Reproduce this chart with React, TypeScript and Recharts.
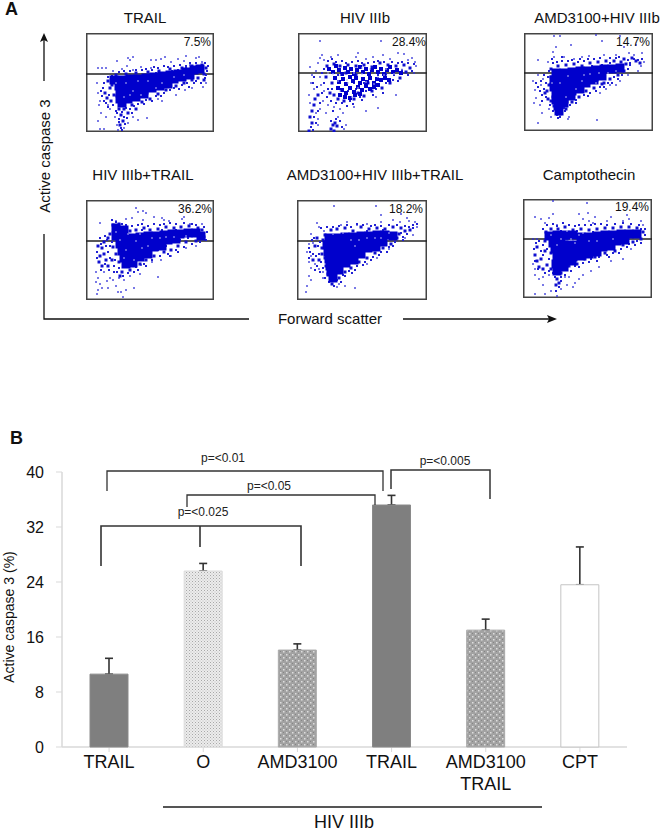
import React from "react";
import { BarChart, Bar, Cell, ErrorBar, XAxis, YAxis, ScatterChart, Scatter, ReferenceLine, ReferenceArea } from "recharts";

type P = [number, number];
const FONT = "'Liberation Sans', Arial, sans-serif";

// ---------- Panel B ----------
const categories = ["TRAIL", "O", "AMD3100", "TRAIL", "AMD3100\nTRAIL", "CPT"];
const caspaseValues = [10.6, 25.6, 14.1, 35.2, 17.0, 23.6];
const caspaseErrors = [2.3, 1.1, 0.9, 1.4, 1.6, 5.5];
const barFills = ["#7f7f7f", "url(#dots)", "url(#lattice)", "#7f7f7f", "url(#lattice)", "#ffffff"];
const barStrokes = ["#8a8a8a", "#dddddd", "#aaaaaa", "#8a8a8a", "#aaaaaa", "#c4c4c4"];
const yTicks = [0, 8, 16, 24, 32, 40];
const barData = categories.map((c, i) => ({ c, v: caspaseValues[i], e: [0, caspaseErrors[i]] }));

// ---------- Panel A: values (forward scatter, caspase, from panel top) ----------
const trailCore: P[] = [[28,47],[36,47],[44,46],[52,46],[60,45],[68,44],[76,43],[84,42],[92,41],[100,39],[108,37],[114,36],[33,53],[40,54],[48,53],[56,52],[64,51],[72,49],[80,48],[88,46],[96,44],[104,42],[34,60],[42,60],[50,59],[58,57],[66,55],[74,53],[82,51],[34,66],[42,66],[50,64],[58,61],[36,70]];
const trailMid: P[] = [[22,48],[24,55],[19,60],[21,65],[26,52],[28,62],[25,68],[33,76],[38,76],[46,72],[56,69],[64,66],[72,61],[80,57],[90,53],[98,50],[106,47],[112,45],[118,41],[120,35],[116,32],[106,33],[96,35],[84,36],[73,38],[62,39],[50,40],[40,41],[30,42],[35,82],[37,88],[34,92],[42,80],[50,76],[118,47]];
const trailFringe: P[] = [[18,50],[17,55],[15,58],[16,63],[18,68],[20,70],[23,62],[22,74],[27,72],[30,78],[33,86],[31,80],[36,79],[40,75],[44,76],[48,73],[52,71],[58,71],[60,67],[66,68],[70,63],[75,63],[78,60],[84,57],[88,55],[93,56],[96,52],[101,50],[103,54],[108,50],[110,48],[115,50],[119,45],[121,38],[119,30],[112,33],[110,30],[104,30],[100,33],[94,32],[88,33],[82,34],[78,33],[72,35],[68,34],[60,36],[56,37],[50,37],[44,38],[38,38],[33,39],[26,43],[22,44],[92,37],[100,35],[86,38],[70,40],[35,95],[36,97],[33,89],[38,84],[41,85],[46,80],[39,91],[120,42],[117,37],[122,33],[66,37]];
const trailSparse: P[] = [[12,35],[16,35],[20,35],[11,50],[12,60],[14,68],[13,72],[15,80],[12,88],[14,96],[18,96],[20,84],[24,76],[29,84],[22,72],[31,92],[32,97],[38,95],[42,90],[47,84],[52,87],[61,85],[31,28],[42,25],[44,27],[47,24],[41,33],[65,27],[70,27],[75,26],[79,24],[85,29],[88,33],[92,26],[98,28],[100,23],[104,32],[110,25],[113,24],[116,29],[65,35],[55,34],[47,37],[120,50],[117,54],[106,55],[99,57],[90,62],[76,68],[72,66],[36,36],[27,38]];
const trailGaps: P[] = [[40,50],[47,58],[62,48],[70,55],[38,64],[55,62],[30,50],[88,44],[98,42],[52,48],[76,50],[44,62]];

const hivCore: P[] = [[31,36],[35,39],[38,33],[41,37],[44,41],[47,35],[50,39],[53,36],[56,41],[59,37],[62,34],[65,39],[68,36],[71,41],[74,37],[77,34],[80,39],[83,36],[86,41],[89,37],[92,34],[95,39],[99,37],[103,40],[37,45],[41,49],[45,46],[48,51],[52,44],[55,48],[58,45],[62,50],[65,46],[69,49],[72,45],[76,50],[79,46],[83,47],[87,45],[91,47],[40,55],[44,57],[48,60],[52,55],[56,59],[60,54],[64,57],[68,53],[72,56],[76,54],[80,52],[47,64],[52,65],[57,62],[62,61],[42,62]];
const hivMid: P[] = [[29,33],[36,31],[42,33],[50,32],[58,33],[66,32],[74,34],[82,30],[90,32],[98,33],[106,32],[112,35],[108,39],[102,45],[92,50],[84,55],[74,58],[66,63],[56,66],[46,68],[40,66],[34,50],[32,60],[28,44],[36,62],[20,62],[17,66],[16,72],[14,78],[12,84],[14,90],[35,92],[37,90],[39,93],[33,96],[36,98],[11,98],[60,60],[70,50],[48,40],[58,42]];
const hivFringe: P[] = [[30,28],[34,26],[38,29],[44,28],[48,30],[54,29],[60,28],[64,30],[70,30],[76,29],[80,28],[86,29],[94,29],[100,30],[104,29],[110,30],[116,31],[114,38],[104,37],[96,42],[88,50],[78,56],[68,58],[62,64],[52,68],[44,70],[38,70],[33,68],[30,56],[26,50],[29,64],[34,56],[40,42],[56,50],[72,43],[88,41],[100,48],[80,42],[42,50],[50,58],[58,56],[66,50],[24,40],[26,36],[16,44],[15,50],[19,54],[24,60],[22,70],[20,78],[16,84],[18,90],[13,94],[15,97],[38,86],[42,88],[44,94],[33,88],[110,42],[95,47],[85,60],[75,62],[64,67],[55,71],[49,73],[35,78]];
const hivSparse: P[] = [[22,25],[24,22],[26,27],[20,30],[33,24],[40,22],[60,20],[58,24],[68,26],[75,24],[85,22],[100,20],[106,21],[110,27],[117,29],[114,25],[92,26],[22,8],[83,8],[12,34],[14,42],[18,38],[13,50],[16,56],[22,44],[23,52],[26,58],[25,68],[30,72],[36,74],[42,76],[45,80],[40,84],[48,92],[46,96],[20,86],[20,92],[18,80],[22,76],[12,70],[56,74],[68,78],[80,75],[98,62],[78,64],[116,40],[118,33],[88,42],[11,62],[28,80]];
const hivGaps: P[] = [[35,41],[42,42],[49,47],[56,40],[64,41],[72,36],[80,44],[88,36],[96,41],[42,58],[50,50],[60,55],[68,49],[76,51],[86,42],[30,40],[54,64],[40,48],[104,36],[64,35]];

const amdCore: P[] = [[32,40],[40,40],[48,39],[56,38],[64,38],[72,37],[80,36],[88,36],[96,35],[30,47],[38,47],[46,46],[54,45],[62,45],[70,44],[78,43],[30,54],[38,54],[46,53],[54,52],[62,50],[70,47],[32,61],[40,60],[48,58],[56,56],[32,67],[40,66],[47,63],[34,73],[40,70],[35,78]];
const amdMid: P[] = [[27,36],[34,33],[42,32],[50,31],[58,33],[66,30],[74,29],[82,28],[90,28],[97,29],[102,31],[100,26],[84,34],[27,44],[25,52],[21,60],[23,58],[24,66],[27,68],[30,73],[36,81],[42,76],[48,69],[55,64],[62,58],[70,55],[78,51],[86,46],[94,42],[100,38],[80,50],[112,28],[116,30],[108,25]];
const amdFringe: P[] = [[29,30],[33,29],[38,28],[44,28],[48,27],[54,29],[60,28],[64,26],[70,26],[76,25],[86,25],[92,25],[95,24],[104,27],[106,30],[110,26],[114,27],[118,26],[104,36],[90,44],[84,50],[88,50],[76,54],[72,58],[66,60],[60,62],[52,67],[46,72],[40,75],[36,84],[33,82],[29,78],[26,72],[22,64],[20,56],[22,50],[24,44],[25,38],[20,42],[34,85],[41,78],[52,70],[64,63],[80,54],[94,46],[98,42],[106,32],[18,62],[16,58],[14,54],[17,48],[18,68],[12,50],[28,26],[38,24],[56,26],[86,30],[78,32],[68,33],[96,32]];
const amdSparse: P[] = [[30,3],[36,3],[72,2],[96,3],[47,12],[32,14],[29,19],[14,27],[24,29],[30,24],[40,24],[50,26],[58,24],[65,23],[80,22],[92,22],[105,20],[110,22],[118,20],[120,29],[117,33],[114,38],[9,48],[11,57],[14,42],[12,65],[10,70],[16,72],[18,80],[14,90],[25,76],[27,84],[44,86],[45,84],[73,87],[76,60],[82,56],[92,52],[96,48],[86,52],[104,42],[112,12],[78,8],[100,14],[17,52],[19,46]];
const amdGaps: P[] = [[44,43],[58,48],[66,41],[75,40],[36,50],[52,56],[84,40],[92,38],[28,50],[60,42],[72,50],[42,64]];

const hivTrailCore: P[] = [[30,28],[38,30],[30,36],[38,38],[46,38],[54,37],[62,36],[70,36],[78,35],[86,34],[94,34],[102,33],[110,33],[115,36],[34,44],[42,45],[50,45],[58,44],[66,42],[74,41],[82,40],[90,39],[36,51],[44,52],[52,52],[60,50],[68,47],[76,46],[38,58],[46,58],[54,57],[62,54],[40,64],[47,63]];
const hivTrailMid: P[] = [[24,34],[27,25],[33,24],[44,31],[50,30],[58,28],[64,30],[72,29],[80,27],[88,28],[95,27],[103,26],[112,28],[116,30],[118,37],[110,41],[100,42],[92,46],[85,50],[78,52],[68,56],[60,60],[54,64],[44,70],[36,72],[33,62],[30,54],[27,47],[22,38],[18,42],[16,48],[12,46],[14,56],[18,54],[20,60],[13,62],[16,66],[22,66],[26,60],[34,76]];
const hivTrailFringe: P[] = [[26,20],[30,22],[36,24],[40,25],[46,26],[52,25],[56,24],[62,26],[68,24],[74,25],[78,24],[84,23],[90,24],[98,23],[106,24],[110,25],[118,27],[121,32],[120,40],[114,42],[106,44],[98,47],[90,50],[82,54],[74,56],[66,60],[58,64],[50,67],[42,73],[37,76],[31,72],[28,66],[24,58],[22,52],[24,46],[20,46],[15,44],[11,52],[11,58],[15,70],[19,64],[23,70],[28,72],[21,40],[19,36],[14,38],[26,42],[102,38],[94,40],[72,50],[64,56],[80,46],[29,60],[33,68],[60,66],[48,72],[52,70],[92,52],[84,56],[56,30],[90,30],[76,30]];
const hivTrailSparse: P[] = [[50,8],[52,12],[57,11],[60,13],[14,23],[30,21],[40,19],[46,18],[57,20],[68,17],[76,18],[78,20],[83,21],[96,19],[98,17],[104,24],[116,24],[10,72],[12,78],[14,84],[10,82],[12,90],[11,94],[18,72],[24,78],[27,80],[30,86],[33,78],[38,80],[44,76],[54,74],[72,77],[55,65],[16,88],[22,88],[32,92],[35,92],[40,90],[37,97],[48,88],[85,56],[75,60],[100,48],[110,46],[66,62],[21,81]];
const hivTrailGaps: P[] = [[42,34],[50,41],[40,50],[56,48],[66,38],[30,32],[74,38],[38,58],[48,60],[54,34],[88,37],[100,36],[34,40],[62,46],[80,37]];

const amdHivTrailCore: P[] = [[32,38],[40,38],[48,37],[56,37],[64,36],[72,36],[80,35],[88,35],[96,36],[30,45],[38,45],[46,45],[54,44],[62,44],[70,43],[78,43],[86,42],[31,52],[39,52],[47,51],[55,50],[63,50],[71,48],[79,47],[32,59],[40,59],[48,58],[56,56],[64,54],[33,66],[41,65],[49,63],[57,60],[34,72],[42,70],[36,78]];
const amdHivTrailMid: P[] = [[28,35],[34,30],[40,29],[48,28],[56,31],[64,27],[72,29],[80,28],[88,29],[96,27],[104,28],[108,31],[102,34],[26,40],[25,48],[28,58],[29,66],[31,74],[35,84],[42,78],[48,72],[54,68],[62,62],[70,58],[78,53],[86,48],[94,44],[88,39],[113,30],[20,38],[18,46],[16,60],[22,60],[25,54],[100,38]];
const amdHivTrailFringe: P[] = [[24,28],[30,27],[36,27],[42,26],[50,25],[54,27],[60,24],[66,25],[74,26],[78,25],[84,26],[92,25],[100,25],[108,26],[112,27],[116,28],[110,34],[106,37],[98,42],[92,47],[84,52],[76,57],[68,62],[60,66],[52,71],[46,75],[40,80],[37,86],[32,82],[28,78],[26,68],[24,62],[22,54],[21,46],[23,42],[17,38],[15,40],[12,48],[13,52],[16,54],[19,56],[20,66],[23,72],[18,70],[12,58],[90,52],[74,60],[58,70],[48,76],[104,33],[86,30],[70,31],[116,25],[120,24],[106,40],[96,46],[82,55],[66,65],[55,73],[44,82]];
const amdHivTrailSparse: P[] = [[37,6],[79,6],[84,15],[20,23],[22,27],[27,31],[14,34],[12,44],[16,43],[10,52],[14,56],[12,62],[18,64],[14,68],[22,69],[26,72],[26,78],[12,76],[14,80],[10,86],[9,92],[42,84],[48,86],[58,88],[50,22],[44,25],[60,25],[70,24],[84,22],[96,20],[103,22],[112,21],[118,22],[120,27],[116,35],[108,38],[92,49],[70,64],[80,58],[104,14],[110,18],[40,87]];
const amdHivTrailGaps: P[] = [[46,33],[62,40],[78,38],[92,33],[54,40],[70,38],[36,34],[58,46],[84,38]];

const camptoCore: P[] = [[26,37],[34,36],[42,36],[50,36],[58,38],[66,38],[74,37],[82,36],[90,36],[98,35],[106,35],[114,35],[30,44],[38,44],[46,46],[54,46],[62,45],[70,44],[78,43],[86,42],[94,42],[102,41],[32,50],[40,52],[48,52],[56,52],[64,51],[72,49],[80,48],[88,47],[34,58],[42,58],[50,58],[58,57],[66,55],[74,53],[33,65],[41,64],[49,62],[34,72],[41,68]];
const camptoMid: P[] = [[23,33],[28,30],[35,30],[42,28],[50,31],[58,30],[66,31],[74,30],[82,29],[90,29],[98,28],[106,28],[114,29],[120,33],[118,40],[110,43],[100,46],[92,52],[82,54],[72,58],[62,60],[54,65],[46,67],[38,74],[34,80],[33,86],[36,84],[29,44],[28,54],[22,42],[14,48],[12,56],[18,60],[16,68],[14,62],[22,52],[24,66],[20,70],[28,70],[44,40],[60,44]];
const camptoFringe: P[] = [[20,30],[24,26],[30,25],[34,27],[40,24],[46,26],[52,27],[56,26],[62,26],[68,26],[72,25],[78,25],[84,26],[92,25],[100,24],[108,25],[116,26],[122,30],[122,36],[114,42],[106,45],[98,50],[90,54],[84,56],[76,58],[68,60],[60,64],[52,67],[44,71],[38,78],[32,78],[30,66],[26,60],[24,50],[20,46],[16,42],[13,44],[11,50],[12,62],[18,52],[20,56],[15,70],[26,72],[22,74],[30,74],[36,88],[33,92],[38,82],[42,76],[48,72],[56,68],[66,63],[74,62],[86,58],[96,54],[104,48],[112,46],[118,44],[118,30],[38,32],[54,32],[70,33]];
const camptoSparse: P[] = [[30,2],[64,4],[12,18],[18,20],[22,24],[26,19],[34,26],[30,15],[56,15],[60,20],[66,22],[70,24],[84,22],[88,18],[100,22],[104,16],[106,20],[118,22],[120,26],[10,40],[14,40],[10,65],[12,70],[12,76],[16,80],[20,78],[26,76],[12,95],[22,95],[28,92],[34,97],[38,90],[44,86],[50,88],[52,84],[56,80],[60,76],[68,72],[76,68],[88,62],[100,60],[108,50],[65,14],[72,18],[46,78],[42,78],[20,86]];
const camptoGaps: P[] = [[44,32],[48,40],[60,34],[52,44],[38,40],[66,42],[28,36],[34,46],[56,36],[74,42],[90,40]];

const panels = [
  { title: "TRAIL", pct: "7.5%", gate: 41, left: 86, top: 33, w: 128, h: 99, coreSize: 9, core: trailCore, mid: trailMid, fringe: trailFringe, sparse: trailSparse, gaps: trailGaps, tx: 145, ty: 23, px: 211, py: 46 },
  { title: "HIV IIIb", pct: "28.4%", gate: 40, left: 298, top: 33, w: 129, h: 99, coreSize: 4, core: hivCore, mid: hivMid, fringe: hivFringe, sparse: hivSparse, gaps: hivGaps, tx: 365, ty: 23, px: 426, py: 46 },
  { title: "AMD3100+HIV IIIb", pct: "14.7%", gate: 40, left: 524, top: 33, w: 129, h: 98, coreSize: 9, core: amdCore, mid: amdMid, fringe: amdFringe, sparse: amdSparse, gaps: amdGaps, tx: 597, ty: 23, px: 650, py: 46 },
  { title: "HIV IIIb+TRAIL", pct: "36.2%", gate: 41, left: 86, top: 200, w: 128, h: 100, coreSize: 9, core: hivTrailCore, mid: hivTrailMid, fringe: hivTrailFringe, sparse: hivTrailSparse, gaps: hivTrailGaps, tx: 143, ty: 180, px: 212, py: 213 },
  { title: "AMD3100+HIV IIIb+TRAIL", pct: "18.2%", gate: 41, left: 297, top: 200, w: 130, h: 100, coreSize: 9, core: amdHivTrailCore, mid: amdHivTrailMid, fringe: amdHivTrailFringe, sparse: amdHivTrailSparse, gaps: amdHivTrailGaps, tx: 375, ty: 180, px: 423, py: 213 },
  { title: "Camptothecin", pct: "19.4%", gate: 40, left: 523, top: 199, w: 129, h: 99, coreSize: 9, core: camptoCore, mid: camptoMid, fringe: camptoFringe, sparse: camptoSparse, gaps: camptoGaps, tx: 589, ty: 180, px: 649, py: 211 },
];

const square = (s: number, color: string) => (p: any) => (
  <rect x={p.cx - s / 2} y={p.cy - s / 2} width={s} height={s} fill={color} />
);
const toXY = (a: P[]) => a.map(([x, y]) => ({ x, y }));

function Panel({ cfg }: { cfg: (typeof panels)[number] }) {
  return (
    <div style={{ position: "absolute", left: cfg.left, top: cfg.top }}>
      <ScatterChart width={cfg.w} height={cfg.h} margin={{ top: 0, right: 0, bottom: 0, left: 0 }}>
        <XAxis type="number" dataKey="x" domain={[0, cfg.w]} hide />
        <YAxis type="number" dataKey="y" domain={[0, cfg.h]} reversed hide />
        <Scatter data={toXY(cfg.sparse)} isAnimationActive={false} shape={square(1.6, "#3030d8")} />
        <Scatter data={toXY(cfg.fringe)} isAnimationActive={false} shape={square(2, "#2020d4")} />
        <Scatter data={toXY(cfg.mid)} isAnimationActive={false} shape={square(3, "#1010d0")} />
        <Scatter data={toXY(cfg.core)} isAnimationActive={false} shape={square(cfg.coreSize, "#0000cc")} />
        <Scatter data={toXY(cfg.gaps)} isAnimationActive={false} shape={square(1.4, "#b8b8f0")} />
        <ReferenceLine y={cfg.gate} stroke="#222" strokeWidth={1.3} />
        <ReferenceArea x1={0} x2={cfg.w} y1={0} y2={cfg.h} fill="none" stroke="#444" strokeWidth={3} ifOverflow="visible" />
      </ScatterChart>
    </div>
  );
}

const CatTick = (p: any) => {
  const lines = String(p.payload.value).split("\n");
  return (
    <text x={p.x} y={p.y} textAnchor="middle" fontSize={18} fontFamily={FONT} fill="#111">
      {lines.map((l: string, i: number) => (
        <tspan key={i} x={p.x} dy={i === 0 ? 14 : 22}>{l}</tspan>
      ))}
    </text>
  );
};

const pTexts: [string, number, number][] = [
  ["p=<0.01", 223, 462], ["p=<0.05", 269, 490], ["p=<0.025", 203, 516], ["p=<0.005", 445, 465],
];
const brackets = [
  { d: "M107 491V471H383V491", w: 1.3 },
  { d: "M187 507V495H375V505", w: 1.3 },
  { d: "M101 566V526H301V566M200 526V547", w: 1.6 },
  { d: "M391 489V470H490V499", w: 1.5 },
];

export default function App() {
  return (
    <div style={{ position: "absolute", left: 0, top: 0, width: 661, height: 832, background: "#fff", overflow: "hidden", fontFamily: FONT }}>
      {panels.map((c) => <Panel key={c.title} cfg={c} />)}
      <div style={{ position: "absolute", left: 0, top: 440 }}>
        <BarChart width={661} height={392} data={barData} barSize={38} margin={{ top: 32, right: 34, bottom: 0, left: 0 }}>
          <XAxis dataKey="c" height={85} interval={0} tick={<CatTick />} tickSize={5} axisLine={{ stroke: "#d9d9d9", strokeWidth: 1.5 }} tickLine={{ stroke: "#d9d9d9" }} />
          <YAxis width={62} domain={[0, 40]} ticks={yTicks} interval={0} tickSize={6} tickMargin={12} axisLine={{ stroke: "#d9d9d9", strokeWidth: 1.5 }} tickLine={{ stroke: "#d9d9d9" }} tick={{ fontSize: 16, fontFamily: FONT, fill: "#111" }} />
          <Bar dataKey="v" fill="none" isAnimationActive={false}>
            <ErrorBar dataKey="e" direction="y" width={4} stroke="#333" strokeWidth={1.6} isAnimationActive={false} />
          </Bar>
        </BarChart>
      </div>
      <div style={{ position: "absolute", left: 0, top: 440 }}>
        <BarChart width={661} height={392} data={barData} barSize={38} margin={{ top: 32, right: 34, bottom: 0, left: 0 }}>
          <XAxis dataKey="c" height={85} interval={0} tick={false} axisLine={false} tickLine={false} />
          <YAxis width={62} domain={[0, 40]} ticks={yTicks} tick={false} axisLine={false} tickLine={false} />
          <Bar dataKey="v" isAnimationActive={false}>
            {barData.map((d, i) => <Cell key={i} fill={barFills[i]} stroke={barStrokes[i]} />)}
          </Bar>
        </BarChart>
      </div>
      <svg width={661} height={832} style={{ position: "absolute", left: 0, top: 0, pointerEvents: "none" }}>
        <defs>
          <pattern id="dots" width="3" height="3" patternUnits="userSpaceOnUse">
            <rect width="3" height="3" fill="#ececec" />
            <rect width="1" height="1" fill="#a8a8a8" />
            <rect x="1.5" y="1.5" width="1" height="1" fill="#bdbdbd" />
          </pattern>
          <pattern id="lattice" width="6" height="6" patternUnits="userSpaceOnUse">
            <rect width="6" height="6" fill="#a2a2a2" />
            <rect x="1" y="1" width="1.5" height="1.5" fill="#dedede" />
            <rect x="4" y="4" width="1.5" height="1.5" fill="#dedede" />
            <rect x="4" y="1" width="1" height="1" fill="#858585" />
            <rect x="1" y="4" width="1" height="1" fill="#858585" />
          </pattern>
        </defs>
        <g fontFamily={FONT} fill="#111">
          <text x={5} y={15} fontSize={18} fontWeight="bold">A</text>
          <text x={10} y={444} fontSize={18} fontWeight="bold">B</text>
          {panels.map((c) => <text key={c.title} x={c.tx} y={c.ty} fontSize={15} textAnchor="middle">{c.title}</text>)}
          {panels.map((c) => <text key={c.pct} x={c.px} y={c.py} fontSize={12} textAnchor="end">{c.pct}</text>)}
          <text transform="translate(50 156) rotate(-90)" fontSize={15} textAnchor="middle">Active caspase 3</text>
          <text x={330} y={324} fontSize={15} textAnchor="middle">Forward scatter</text>
          <text transform="translate(14 617) rotate(-90)" fontSize={14} textAnchor="middle">Active caspase 3 (%)</text>
          {pTexts.map(([t, x, y]) => <text key={t} x={x} y={y} fontSize={12} textAnchor="middle" fill="#222">{t}</text>)}
          <text x={344} y={828} fontSize={18} textAnchor="middle">HIV IIIb</text>
        </g>
        <g stroke="#111" strokeWidth={1.3} fill="none">
          <path d="M44 81V38M44 234V319H249M403 319H550" />
        </g>
        <path d="M44 33L40 42L44 40L48 42Z" fill="#111" />
        <path d="M557 319L547 315L549 319L547 323Z" fill="#111" />
        {brackets.map((b, i) => <path key={i} d={b.d} stroke="#333" strokeWidth={b.w} fill="none" />)}
        <path d="M163 807H542" stroke="#555" strokeWidth={2} />
      </svg>
    </div>
  );
}
